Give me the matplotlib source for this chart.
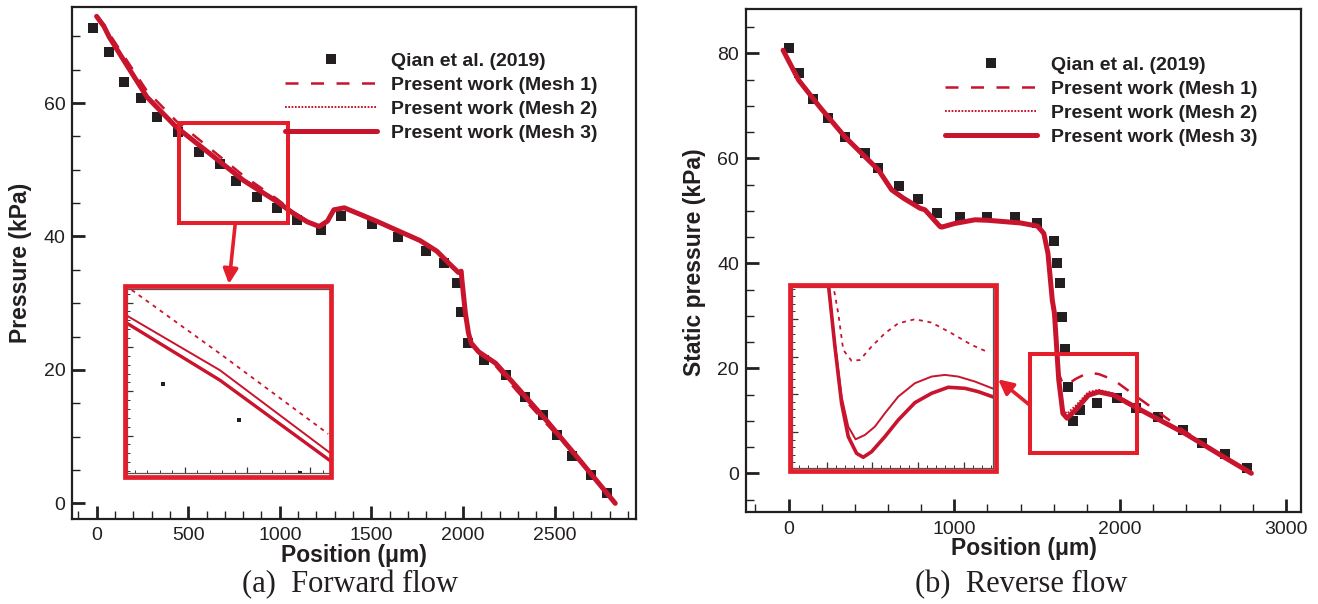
import matplotlib
matplotlib.use("Agg")
import matplotlib.pyplot as plt
from matplotlib.ticker import MultipleLocator
from matplotlib.patches import Rectangle, FancyArrowPatch

plt.rcParams['font.family'] = ['Liberation Sans', 'DejaVu Sans']

RED_LINE = '#C8142C'
RED_BOX = '#E41E2B'
BLACK = '#231F20'

# ---------------- (a) forward flow ----------------
fwd_qian_x = [-18, 69, 149, 241, 332, 447, 557, 671, 763, 878, 986, 1096, 1226, 1336, 1502,
              1646, 1799, 1896, 1965, 1988, 2029, 2116, 2232, 2340, 2437, 2511, 2595, 2700, 2785]
fwd_qian_y = [71.2, 67.6, 63.2, 60.8, 57.9, 55.6, 52.7, 50.8, 48.3, 45.9, 44.3, 42.4, 41.0, 43.0, 41.8,
              39.9, 37.9, 36.0, 33.0, 28.7, 24.0, 21.5, 19.2, 16.0, 13.2, 10.3, 7.1, 4.3, 1.5]

fwd_x = [0, 40, 69, 160, 275, 435, 619, 802, 986, 1078, 1150, 1215, 1260, 1295, 1352, 1440, 1536,
         1650, 1765, 1857, 1926, 1975, 1990, 1994, 2013, 2030, 2045, 2086, 2178, 2292, 2453, 2636, 2831]
fwd_mesh3 = [73.0, 71.5, 69.9, 65.9, 60.9, 56.4, 52.4, 48.4, 45.2, 43.4, 42.2, 41.5, 42.3, 44.0, 44.3, 43.3, 42.2,
             40.8, 39.4, 37.8, 35.9, 34.6, 34.8, 33.5, 28.5, 25.5, 24.0, 22.7, 21.0, 17.5, 12.5, 6.5, 0.0]
fwd_mesh2 = [73.1, 71.6, 70.0, 66.0, 61.1, 56.6, 52.6, 48.6, 45.4, 43.5, 42.3, 41.6, 42.4, 44.1, 44.4, 43.4, 42.3,
             40.9, 39.5, 37.9, 36.0, 34.7, 34.9, 33.6, 28.6, 25.6, 24.1, 22.8, 21.1, 17.5, 12.5, 6.5, 0.0]
fwd_mesh1 = [73.0, 71.8, 70.4, 66.6, 61.8, 57.3, 53.2, 49.1, 45.6, 43.6, 42.3, 41.6, 42.4, 44.1, 44.4, 43.4, 42.3,
             40.9, 39.5, 37.9, 36.0, 34.7, 34.9, 33.6, 28.6, 25.6, 24.0, 22.5, 20.6, 16.9, 12.0, 6.5, 0.0]

# inset (a)
fwd_in_x = [708, 856, 1033]
fwd_in_mesh3 = [51.06, 48.50, 44.85]
fwd_in_mesh2 = [51.40, 48.95, 45.20]
fwd_in_mesh1_x = [715, 856, 1029]
fwd_in_mesh1 = [52.57, 49.70, 46.08]
fwd_in_qian_x = [764.5, 886, 984]
fwd_in_qian_y = [48.34, 46.7, 44.3]

# ---------------- (b) reverse flow ----------------
rev_qian_x = [2, 61, 150, 238, 340, 461, 542, 669, 783, 897, 1036, 1196, 1366, 1500, 1600, 1621, 1638,
              1651, 1665, 1683, 1716, 1759, 1860, 1982, 2096, 2229, 2381, 2493, 2632, 2763]
rev_qian_y = [81.1, 76.2, 71.4, 67.6, 64.1, 61.0, 58.1, 54.8, 52.2, 49.5, 48.8, 48.8, 48.8, 47.7, 44.2, 40.1, 36.2,
              29.8, 23.6, 16.5, 10.0, 12.1, 13.4, 14.3, 12.4, 10.8, 8.2, 5.7, 3.7, 1.1]

rev_x = [-33, 61, 188, 340, 542, 622, 694, 793, 823, 914, 924, 1003, 1125, 1204, 1398, 1502, 1540, 1565,
         1591, 1604, 1630, 1655, 1680, 1733, 1809, 1872, 1961, 2087, 2391, 2600, 2792]
rev_mesh3 = [80.6, 74.9, 69.8, 64.1, 57.8, 54.0, 52.4, 50.5, 50.2, 47.0, 46.9, 47.6, 48.3, 48.2, 47.7, 47.1, 45.7, 41.9,
             33.0, 30.5, 17.8, 11.4, 10.5, 12.1, 14.9, 15.5, 14.9, 12.7, 7.6, 3.6, 0.0]
rev_mesh2 = [80.6, 74.9, 69.8, 64.1, 57.8, 54.0, 52.4, 50.5, 50.2, 47.0, 46.9, 47.6, 48.3, 48.2, 47.7, 47.1, 45.7, 41.9,
             33.0, 30.5, 18.2, 12.0, 11.4, 12.9, 15.5, 15.9, 15.2, 12.9, 7.7, 3.6, 0.0]
rev_mesh1 = [80.6, 74.9, 69.8, 64.1, 57.8, 54.0, 52.4, 50.5, 50.2, 47.0, 46.9, 47.6, 48.3, 48.2, 47.7, 47.1, 45.7, 41.9,
             33.0, 30.5, 19.0, 17.0, 16.9, 18.0, 19.2, 18.9, 17.8, 14.9, 8.0, 3.7, 0.0]

# inset (b)
rev_in_mesh3_x = [1603.8, 1618.4, 1633.0, 1647.6, 1665.8, 1680.4, 1698.7, 1727.9, 1757.0, 1793.5, 1830.0, 1866.5, 1903.0, 1932.2, 1962.8]
rev_in_mesh3 = [22.4, 18.17, 14.41, 12.20, 11.09, 10.83, 11.20, 12.20, 13.30, 14.45, 15.07, 15.47, 15.40, 15.18, 14.85]
rev_in_mesh2_x = [1603.8, 1618.4, 1633.0, 1647.6, 1663.6, 1684.1, 1705.9, 1727.9, 1757.0, 1793.5, 1830.0, 1859.2, 1888.4, 1924.9, 1962.8]
rev_in_mesh2 = [22.4, 18.39, 14.85, 12.86, 12.02, 12.31, 12.86, 13.75, 14.85, 15.74, 16.18, 16.29, 16.18, 15.85, 15.40]
rev_in_mesh1_x = [1613.5, 1625.7, 1636.6, 1654.9, 1673.1, 1698.7, 1727.9, 1757.0, 1793.5, 1830.0, 1873.8, 1917.6, 1955.5]
rev_in_mesh1 = [22.4, 20.38, 17.95, 17.22, 17.28, 18.17, 19.05, 19.71, 19.98, 19.76, 19.05, 18.28, 17.77]

labels = ['Qian et al. (2019)', 'Present work (Mesh 1)', 'Present work (Mesh 2)', 'Present work (Mesh 3)']

fig = plt.figure(figsize=(13.18, 6.04), dpi=100)


def style_main(ax):
    for s in ax.spines.values():
        s.set_linewidth(1.6)
        s.set_color(BLACK)
    ax.tick_params(which='both', direction='in', top=False, right=False, labelsize=14, colors=BLACK)
    ax.tick_params(which='major', length=9.5, width=2.0)
    ax.tick_params(which='minor', length=5.5, width=1.0)
    ax.tick_params(axis='x', pad=6)
    ax.tick_params(axis='y', pad=5)


def draw_series(ax, qx, qy, x, m3, m2, m1, ms=7.0, lw3=3.6):
    ax.plot(qx, qy, 's', color=BLACK, ms=ms, mew=0, zorder=2, label=labels[0])
    ax.plot(x, m1, color=RED_LINE, lw=1.8, dashes=(5.2, 5.0), zorder=3, label=labels[1])
    ax.plot(x, m2, color=RED_LINE, lw=1.4, dashes=(0.9, 0.8), zorder=3, label=labels[2])
    ax.plot(x, m3, color=RED_LINE, lw=lw3, solid_capstyle='round', zorder=3, label=labels[3])


def style_inset(ax, xmaj, xmin, ymaj, ymin):
    for s in ax.spines.values():
        s.set_linewidth(0.9)
        s.set_color('#555555')
    ax.tick_params(which='both', direction='in', top=False, right=False,
                   labelbottom=False, labelleft=False, colors='#333333')
    ax.tick_params(which='major', length=4, width=0.9)
    ax.tick_params(which='minor', length=2.5, width=0.7)
    ax.xaxis.set_major_locator(MultipleLocator(xmaj))
    ax.xaxis.set_minor_locator(MultipleLocator(xmin))
    ax.yaxis.set_major_locator(MultipleLocator(ymaj))
    ax.yaxis.set_minor_locator(MultipleLocator(ymin))


def legend(ax, x, y):
    leg = ax.legend(loc='upper left', bbox_to_anchor=(x, y),
                    frameon=False, prop={'weight': 'bold', 'size': 14}, handlelength=4.7,
                    handletextpad=0.75, labelspacing=0.33, borderpad=0, borderaxespad=0)
    for t in leg.get_texts():
        t.set_color(BLACK)


# ---- panel (a)
ax1 = fig.add_axes([0.0548, 0.1407, 0.4280, 0.8477])
draw_series(ax1, fwd_qian_x, fwd_qian_y, fwd_x, fwd_mesh3, fwd_mesh2, fwd_mesh1)
ax1.set_xlim(-133, 2946)
ax1.set_ylim(-2.35, 74.4)
ax1.xaxis.set_major_locator(MultipleLocator(500))
ax1.xaxis.set_minor_locator(MultipleLocator(100))
ax1.yaxis.set_major_locator(MultipleLocator(20))
ax1.yaxis.set_minor_locator(MultipleLocator(5))
style_main(ax1)
legend(ax1, 0.378, 0.911)
ax1.add_patch(Rectangle((451, 42.0), 594, 15.0, fill=False, ec=RED_BOX, lw=2.9, zorder=4))

in1 = fig.add_axes([0.0966, 0.2164, 0.1543, 0.3046])
in1.plot(fwd_in_qian_x, fwd_in_qian_y, 's', color=BLACK, ms=2.8, mew=0)
in1.plot(fwd_in_mesh1_x, fwd_in_mesh1, color=RED_LINE, lw=1.3, dashes=(2.2, 2.6))
in1.plot(fwd_in_x, fwd_in_mesh2, color=RED_LINE, lw=1.4)
in1.plot(fwd_in_x, fwd_in_mesh3, color=RED_LINE, lw=2.4)
in1.set_xlim(708, 1033)
in1.set_ylim(44.3, 52.6)
style_inset(in1, 100, 20, 2.0, 0.4)

# ---- panel (b)
ax2 = fig.add_axes([0.5661, 0.1518, 0.4212, 0.8328])
draw_series(ax2, rev_qian_x, rev_qian_y, rev_x, rev_mesh3, rev_mesh2, rev_mesh1)
ax2.set_xlim(-256, 3093)
ax2.set_ylim(-7.43, 88.4)
ax2.xaxis.set_major_locator(MultipleLocator(1000))
ax2.xaxis.set_minor_locator(MultipleLocator(200))
ax2.yaxis.set_major_locator(MultipleLocator(20))
ax2.yaxis.set_minor_locator(MultipleLocator(5))
style_main(ax2)
legend(ax2, 0.359, 0.907)
ax2.add_patch(Rectangle((1454, 3.8), 651, 18.9, fill=False, ec=RED_BOX, lw=2.9, zorder=4))

in2 = fig.add_axes([0.6011, 0.2247, 0.1525, 0.2997])
in2.plot(rev_in_mesh1_x, rev_in_mesh1, color=RED_LINE, lw=1.3, dashes=(2.2, 2.6))
in2.plot(rev_in_mesh2_x, rev_in_mesh2, color=RED_LINE, lw=1.4)
in2.plot(rev_in_mesh3_x, rev_in_mesh3, color=RED_LINE, lw=2.6)
in2.set_xlim(1525, 1965)
in2.set_ylim(10.1, 22.1)
style_inset(in2, 100, 20, 2.5, 0.5)

# red frames around insets and arrows
W, H = 1318.0, 604.0
for (x0, y0, x1, y1) in [(125, 285.6, 331, 476.7), (790, 285, 995.5, 471)]:
    fig.add_artist(Rectangle((x0 / W, 1 - y1 / H), (x1 - x0) / W, (y1 - y0) / H, fill=False,
                             ec=RED_BOX, lw=3.4, transform=fig.transFigure, zorder=10))
for (xa, ya, xb, yb) in [(235.2, 224, 228.9, 284), (1029.6, 405, 998.1, 379.3)]:
    fig.add_artist(FancyArrowPatch((xa / W, 1 - ya / H), (xb / W, 1 - yb / H), transform=fig.transFigure,
                                   arrowstyle='-|>', mutation_scale=22, lw=2.6, color=RED_BOX,
                                   shrinkA=0, shrinkB=0, zorder=10))

# axis labels and captions
lab = dict(fontsize=16.5, fontweight='bold', color=BLACK, ha='center', va='center')
fig.text(21 / W, 1 - 263 / H, 'Pressure (kPa)', rotation=90, **lab)
fig.text(354 / W, 1 - 555.7 / H, 'Position (\u03bcm)', **lab)
fig.text(694.5 / W, 1 - 262 / H, 'Static pressure (kPa)', rotation=90, **lab)
fig.text(1024.4 / W, 1 - 548.3 / H, 'Position (\u03bcm)', **lab)

cap = dict(fontsize=22, family=['Liberation Serif', 'DejaVu Serif'], color=BLACK, ha='center', va='center')
fig.text(349.7 / W, 1 - 585 / H, '(a)  Forward flow', **cap)
fig.text(1021.2 / W, 1 - 585 / H, '(b)  Reverse flow', **cap)

fig.savefig('out.png', dpi=100)
